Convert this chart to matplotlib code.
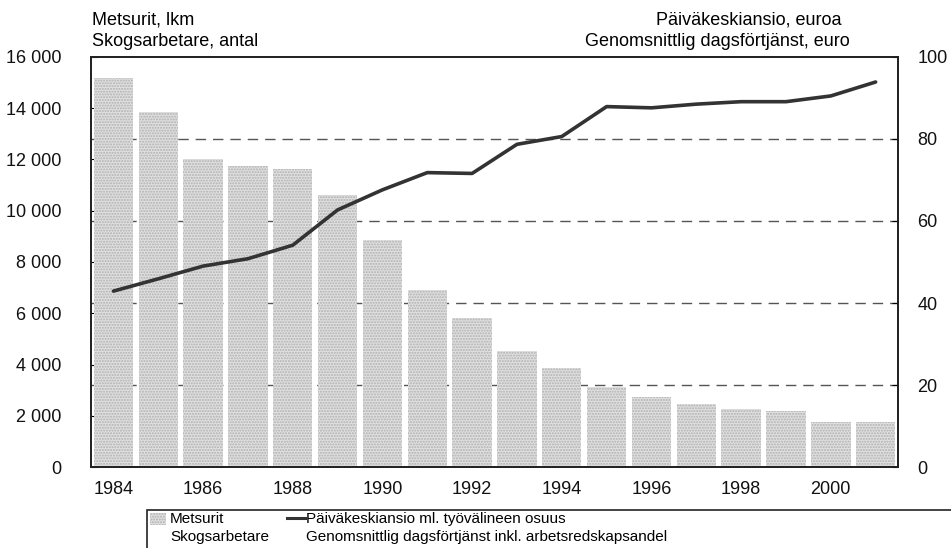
import numpy as np
import matplotlib.pyplot as plt
from matplotlib.patches import Rectangle
from matplotlib.lines import Line2D

plt.rcParams['font.family'] = ['Liberation Sans', 'DejaVu Sans']

# data
years = np.arange(1984, 2002)
workers = [15180, 13850, 12020, 11750, 11630, 10610, 8860, 6900, 5820,
           4530, 3860, 3120, 2730, 2460, 2260, 2190, 1760, 1760]
daily_pay = [42.9, 45.9, 49.0, 50.8, 54.1, 62.7, 67.6, 71.8, 71.6,
             78.7, 80.6, 87.9, 87.6, 88.5, 89.1, 89.1, 90.5, 93.9]
left_ticks = np.arange(0, 16001, 2000)
right_ticks = np.arange(0, 101, 20)
year_ticks = np.arange(1984, 2001, 2)

fig = plt.figure(figsize=(9.51, 5.48), dpi=100)
ax = fig.add_axes([0.0957, 0.1478, 0.8486, 0.7482])
ax2 = ax.twinx()

# dashed grid at the right axis ticks, behind the bars
for v in right_ticks[1:-1]:
    ax.axhline(v * 160, color='#555555', lw=1, ls=(0, (7.5, 5)), zorder=0)

ax.bar(years, workers, width=0.88, color='#e0e0e0', hatch='......',
       edgecolor='#b0b0b0', lw=0, zorder=2)
ax2.plot(years, daily_pay, color='#333333', lw=2.6, solid_capstyle='round')

ax.set_xlim(1983.5, 2001.5)
ax.set_ylim(0, 16000)
ax2.set_ylim(0, 100)

ax.set_xticks(year_ticks)
ax.set_xticklabels([str(y) for y in year_ticks])
ax.set_yticks(left_ticks)
ax.set_yticklabels([f'{v:,}'.replace(',', ' ') for v in left_ticks])
ax2.set_yticks(right_ticks)

ax.tick_params(axis='x', length=0, pad=10, labelsize=13, labelcolor='#111111')
ax.tick_params(axis='y', direction='in', length=4, pad=21, labelsize=13, labelcolor='#111111')
ax2.tick_params(axis='y', direction='in', length=4, pad=14, labelsize=13, labelcolor='#111111')

for a in (ax, ax2):
    for s in a.spines.values():
        s.set_color('#222222')
        s.set_linewidth(1.3)

# axis headers
fig.text(92 / 951, 1 - 20 / 548, 'Metsurit, lkm', fontsize=13, va='center', ha='left')
fig.text(92 / 951, 1 - 42 / 548, 'Skogsarbetare, antal', fontsize=13, va='center', ha='left')
fig.text(841 / 951, 1 - 20 / 548, 'Päiväkeskiansio, euroa', fontsize=13, va='center', ha='right')
fig.text(850 / 951, 1 - 42 / 548, 'Genomsnittlig dagsförtjänst, euro', fontsize=13, va='center', ha='right')

# legend box at the bottom
fig.patches.append(Rectangle((147 / 951, -0.05), 0.9, 1 - 510 / 548 + 0.05,
                             transform=fig.transFigure, fill=False,
                             edgecolor='#222222', lw=1.2))
fig.patches.append(Rectangle((150 / 951, 1 - 525 / 548), 16 / 951, 12 / 548,
                             transform=fig.transFigure, facecolor='#e0e0e0',
                             hatch='......', edgecolor='#b0b0b0', lw=0))
fig.lines.append(Line2D([287 / 951, 305 / 951], [1 - 518 / 548] * 2,
                        transform=fig.transFigure, color='#333333', lw=2.2))
fig.text(170 / 951, 1 - 519 / 548, 'Metsurit', fontsize=11, va='center')
fig.text(170 / 951, 1 - 537 / 548, 'Skogsarbetare', fontsize=11, va='center')
fig.text(306 / 951, 1 - 519 / 548, 'Päiväkeskiansio ml. työvälineen osuus', fontsize=11, va='center')
fig.text(306 / 951, 1 - 537 / 548, 'Genomsnittlig dagsförtjänst inkl. arbetsredskapsandel',
         fontsize=11, va='center')

fig.savefig('out.png', dpi=100)
